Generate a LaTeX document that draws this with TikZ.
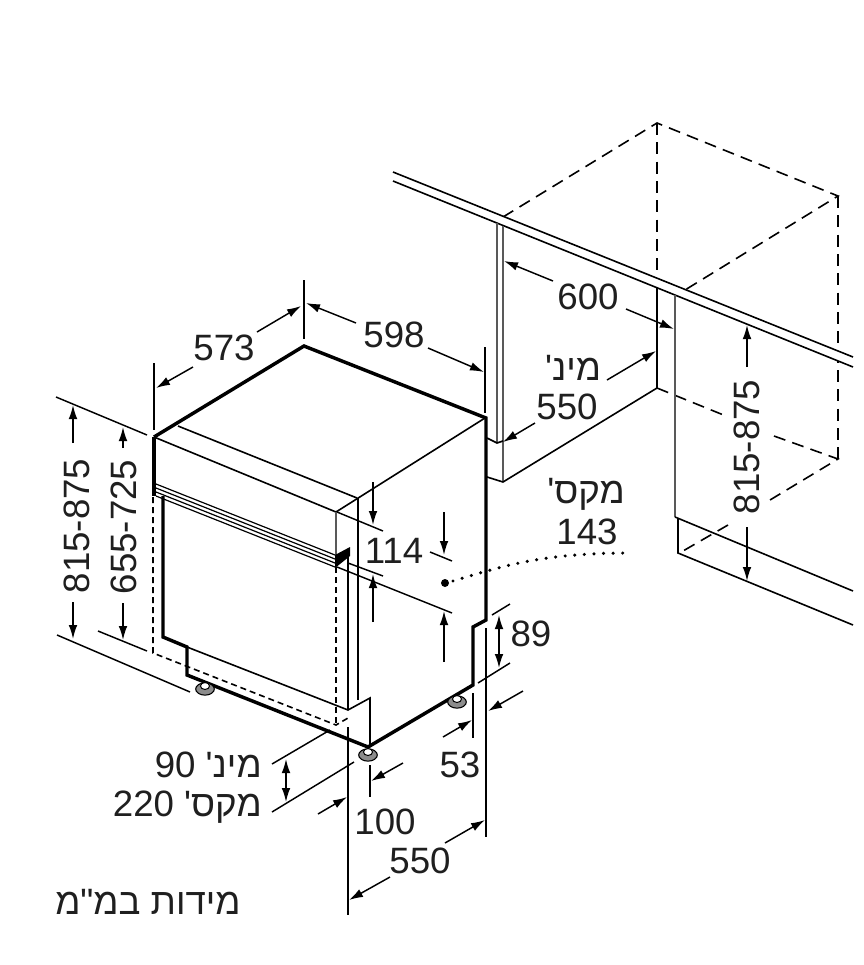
\documentclass[tikz,border=0pt]{standalone}
\usepackage{fontspec}
\setmainfont{Liberation Sans}
\newfontfamily\hebfont[Script=Hebrew]{Liberation Sans}
\TeXXeTstate=1
\usetikzlibrary{arrows.meta}
\usetikzlibrary{positioning}
\tikzset{
	>={Latex[length=10.5pt,width=6.5pt]},
	outline/.style={line width=2.6pt, line join=miter},
	edge/.style={line width=1.2pt},
	greyedge/.style={line width=1.1pt, draw=black!65},
	hidden/.style={line width=1.2pt, dash pattern=on 9pt off 5.5pt},
	hiddenfine/.style={line width=1.2pt, dash pattern=on 4.5pt off 3pt},
	dim/.style={line width=1.1pt},
	label/.style={inner sep=0pt, font=\fontsize{27.5}{30}\selectfont, text=black!88},
	foot/.style={line width=0.8pt, fill=black!45},
}
\begin{document}
\begin{tikzpicture}[x=0.75pt, y=-0.75pt]
	\useasboundingbox (0,0) rectangle (864,965);
	\fill[white] (0,0) rectangle (864,965);

	% tall cabinet behind
	\draw[hidden] (503,217) -- (657,123) -- (838,196) -- (685,290);
	\draw[hidden] (657,123) -- (657,290);
	\draw[hidden] (838,196) -- (838,459);
	\draw[hidden] (657,388) -- (726,416);
	\draw[hidden] (774,436) -- (838,459) -- (765,503);
	\draw[hidden] (728,525) -- (683,551);

	% worktop
	\fill[white] (393,172) -- (853,357) -- (853,367) -- (393,181) -- cycle;
	\draw[edge] (393,172) -- (853,357);
	\draw[edge] (393,181) -- (853,367);

	% recess
	\draw[greyedge] (497,223) -- (497,443);
	\draw[greyedge] (503,226) -- (503,482);
	\draw[edge] (487,438) -- (497,443) -- (503,441);
	\draw[edge] (487,477) -- (503,482) -- (657,388);
	\draw[line width=1.8pt] (657,287) -- (657,388);
	\draw[greyedge] (675,295) -- (675,517);
	\draw[edge] (675,517) -- (853,591);
	\draw[edge] (678,518) -- (678,553) -- (853,625);

	% appliance
	\coordinate (backtop) at (304,346);
	\coordinate (lefttop) at (154,437);
	\coordinate (righttop) at (486,418);
	\coordinate (frontcorner) at (368,747);
	\draw[edge] (lefttop) -- (336,512) -- (485,418);
	\draw[edge] (178,426) -- (357,498);
	\draw[greyedge] (336,512) -- (336,556);
	\draw[edge] (358,498) -- (358,700);
	\draw[edge] (348,550) -- (348,710);
	\draw[line width=1.8pt] (348,563) -- (348,710);
	\foreach \drop in {0,4,8,12} {
		\draw[line width=0.9pt] (156,484+\drop) -- (335,555+\drop);
	}
	\fill (335,555) -- (350,547) -- (350,556) -- (335,568) -- cycle;
	\draw[outline] (lefttop) -- (154,496);
	\draw[outline] (163,496) -- (163,637) -- (187,647) -- (187,675) -- (frontcorner) -- (473,685) -- (473,627) -- (486,620) -- (righttop) -- (backtop) -- (lefttop);
	\draw[edge] (187,647) -- (348,710) -- (370,698) -- (370,747);
	\draw[hiddenfine] (153,497) -- (153,653) -- (336,725) -- (348,718);
	\draw[hiddenfine] (336,567) -- (336,725);

	% feet
	\foreach \fx/\fy in {205/689, 368/755, 457/702} {
		\draw[foot] (\fx,\fy) ellipse (7pt and 4.6pt);
		\draw[line width=0.8pt, fill=white] (\fx,\fy-3) ellipse (3.4pt and 2.6pt);
	}

	% width and depth
	\draw[dim] (304,280) -- (304,339);
	\draw[dim] (154,363) -- (154,430);
	\draw[dim] (485,347) -- (485,413);
	\draw[dim, ->] (193,367) -- (156,388);
	\draw[dim, ->] (257,332) -- (301,306);
	\draw[dim, ->] (356,323) -- (306,303);
	\draw[dim, ->] (428,348) -- (484,372);
	\node[label] (depth) at (224,348) {573};
	\node[label] (width) at (394,335) {598};

	% left heights
	\draw[dim] (56,397) -- (147,435);
	\draw[dim] (57,635) -- (190,692);
	\draw[dim] (98,631) -- (147,651);
	\draw[dim, ->] (73,443) -- (73,405);
	\draw[dim, ->] (73,602) -- (73,639);
	\draw[dim, ->] (123,448) -- (123,427);
	\draw[dim, ->] (123,603) -- (123,640);
	\node[label, rotate=90] (heightmax) at (77,526) {815-875};
	\node[label, rotate=90] (heightmin) at (124,527) {655-725};

	% panel
	\draw[dim] (337,512) -- (383,531);
	\draw[dim] (348,563) -- (383,576);
	\draw[dim] (337,567) -- (452,613);
	\draw[dim] (430,552) -- (452,561);
	\draw[dim, ->] (373,482) -- (373,525);
	\draw[dim, ->] (444,512) -- (444,555);
	\draw[dim, ->] (373,622) -- (373,574);
	\draw[dim, ->] (444,662) -- (444,611);
	\node[label] (panel) at (394,551) {114};

	% dotted leader
	\fill (445,583) circle (3pt);
	\draw[line width=2.6pt, line cap=round, dash pattern=on 0pt off 7.2pt] (453,581) .. controls (500,567) and (540,553) .. (630,553);
	\node[label] (plinthlabel) at (586,494) {\hebfont\beginR מקס'\endR};
	\node[label] (plinth) at (587,532) {143};

	% plinth
	\draw[dim] (492,615) -- (510,604);
	\draw[dim] (478,683) -- (510,663);
	\draw[dim, <->] (499,615) -- (499,668);
	\node[label] (step) at (531,634) {89};
	\draw[dim] (486,628) -- (486,837);
	\draw[dim] (473,693) -- (473,738);
	\draw[dim, ->] (443,737) -- (472,720);
	\draw[dim, ->] (523,691) -- (488,711);
	\node[label] (stepdepth) at (460,765) {53};

	% feet height
	\draw[dim] (272,764) -- (330,730);
	\draw[dim] (272,812) -- (354,762);
	\draw[dim, <->] (286,759) -- (286,802);
	\node[label, anchor=east] (feetmin) at (262,765) {\hebfont\beginR מינ' \beginL 90\endL\endR};
	\node[label, anchor=east] (feetmax) at (262,807) {\hebfont\beginR מקס' \beginL 220\endL\endR};

	% front offset
	\draw[dim] (370,765) -- (370,797);
	\draw[dim] (348,727) -- (348,915);
	\draw[dim, ->] (403,763) -- (371,781);
	\draw[dim, ->] (318,814) -- (347,797);
	\node[label] (offset) at (385,822) {100};

	% lower depth
	\draw[dim, ->] (445,843) -- (485,820);
	\draw[dim, ->] (390,877) -- (349,900);
	\node[label] (lowerdepth) at (420,861) {550};

	% recess dimensions
	\draw[dim, ->] (553,281) -- (504,261);
	\draw[dim, ->] (626,309) -- (674,329);
	\node[label] (recesswidth) at (588,297) {600};
	\draw[dim, ->] (607,380) -- (656,351);
	\draw[dim, ->] (535,423) -- (503,442);
	\node[label] (recesslabel) at (573,368) {\hebfont\beginR מינ'\endR};
	\node[label] (recessdepth) at (567,407) {550};
	\draw[dim, ->] (747,367) -- (747,325);
	\draw[dim, ->] (747,527) -- (747,581);
	\node[label, rotate=90] (worktop) at (747,447) {815-875};

	\node[label, anchor=west] (units) at (55,902) {\hebfont\beginR מידות במ"מ\endR};
\end{tikzpicture}
\end{document}
